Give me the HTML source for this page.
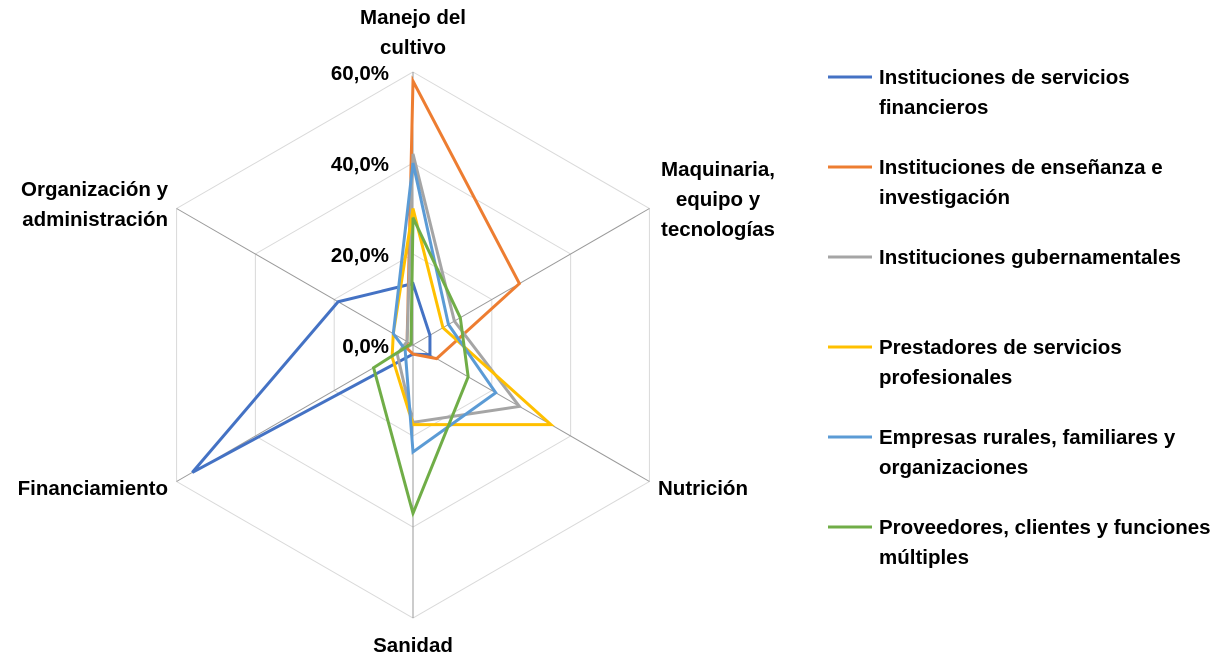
<!DOCTYPE html>
<html><head><meta charset="utf-8"><style>
body{margin:0;background:#fff;}
svg text{font-family:"Liberation Sans",sans-serif;font-weight:bold;font-size:20.5px;fill:#000;}
</style></head><body>
<svg width="1221" height="664">
<g id="grid"></g><g id="series"></g><g id="labels"></g><g id="legend"></g>
</svg>
<script>
const axes=[["Manejo del","cultivo"],["Maquinaria,","equipo y","tecnologías"],["Nutrición"],["Sanidad"],["Financiamiento"],["Organización y","administración"]];
const ticks=["0,0%","20,0%","40,0%","60,0%"];
const seriesNames=[["Instituciones de servicios","financieros"],["Instituciones de enseñanza e","investigación"],["Instituciones gubernamentales"],["Prestadores de servicios","profesionales"],["Empresas rurales,  familiares   y","organizaciones"],["Proveedores, clientes y funciones","múltiples"]];
const colors=["#4472c4","#ed7d31","#a5a5a5","#ffc000","#5b9bd5","#70ad47"];
const sFinancieros=[13.5,4.3,4.3,2,56,19];
const sEnsenanza=[58,27,6,2,1.5,1.5];
const sGubern=[42,10.5,27,17,4,1.5];
const sPrestadores=[30,7.6,35,17.5,5.3,5];
const sEmpresas=[40,9,21,23.5,2,5];
const sProveedores=[28,12,14,37,10,0.5];
const series=[sFinancieros,sEnsenanza,sGubern,sPrestadores,sEmpresas,sProveedores];
const cx=413,cy=345,R=273,maxV=60;
const NS="http://www.w3.org/2000/svg";
function pt(i,v){const a=-Math.PI/2+i*Math.PI/3;const r=v/maxV*R;return [cx+r*Math.cos(a),cy+r*Math.sin(a)];}
function mk(tag,attrs,parent){const e=document.createElementNS(NS,tag);for(const k in attrs)e.setAttribute(k,attrs[k]);parent.appendChild(e);return e;}
const grid=document.getElementById('grid');
for(let t=1;t<=3;t++){const v=t*20;const p=[0,1,2,3,4,5].map(i=>pt(i,v).join(',')).join(' ');
const g=mk('polygon',{points:p,fill:'none',stroke:'#d9d9d9','stroke-width':1},grid);

}
for(let i=0;i<6;i++){const [x,y]=pt(i,60);const l=mk('line',{x1:cx,y1:cy,x2:x,y2:y,stroke:'#999','stroke-width':1},grid);

}
const sg=document.getElementById('series');
series.forEach((s,k)=>{const p=s.map((v,i)=>pt(i,v).join(',')).join(' ');
const e=mk('polygon',{points:p,fill:'none',stroke:colors[k],'stroke-width':3,'stroke-linejoin':'miter'},sg);

});
const lg=document.getElementById('labels');
ticks.forEach((t,i)=>{const [x,y]=pt(0,i*20);const e=mk('text',{x:x-24,y:y+8,'text-anchor':'end'},lg);e.textContent=t;

});
const lp=[[413,24,'middle'],[718,176,'middle'],[658,495,'start'],[413,652,'middle'],[168,495,'end'],[168,196,'end']];
axes.forEach((a,i)=>{const [x,y,an]=lp[i];
a.forEach((line,j)=>{const e=mk('text',{x:x,y:y+j*30,'text-anchor':an},lg);e.textContent=line;

});});
const leg=document.getElementById('legend');
const ly=[77,167,257,347,437,527];
seriesNames.forEach((nm,k)=>{const y=ly[k];
const l=mk('line',{x1:828,y1:y,x2:872,y2:y,stroke:colors[k],'stroke-width':3},leg);


nm.forEach((t,j)=>{const e=mk('text',{x:879,y:y+7+j*30},leg);e.textContent=t;

});});
</script>
</body></html>
